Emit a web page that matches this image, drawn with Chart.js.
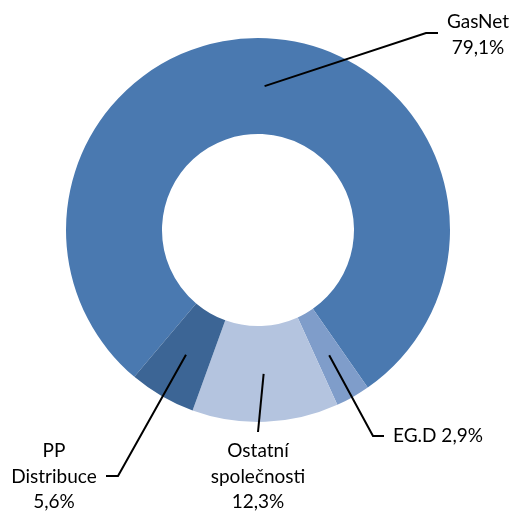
<!DOCTYPE html>
<html>
<head>
<meta charset="utf-8">
<script src="https://cdn.jsdelivr.net/npm/chart.js@4/dist/chart.umd.min.js"></script>
<style>
  html, body { margin: 0; padding: 0; background: #fff; }
  #wrap { width: 512px; height: 515px; position: relative; }
</style>
</head>
<body>
<div id="wrap"><canvas id="shareChart"></canvas></div>
<script>
const labels = ["GasNet", "EG.D", "Ostatní společnosti", "PP Distribuce"];
const shares = [79.1, 2.9, 12.3, 5.6];
const labelLines = [["GasNet", "79,1%"], ["EG.D 2,9%"], ["Ostatní", "společnosti", "12,3%"], ["PP", "Distribuce", "5,6%"]];
const sliceColors = ['#4a79b0', '#7f9dca', '#b4c4df', '#3c6595'];

// leader line layout: elbow point, end of horizontal tail, text anchor
const callouts = [
  { elbow: [426, 33], tail: [438, 33], text: [478, 22], align: 'center' },
  { elbow: [373, 436], tail: [384, 436], text: [393, 436], align: 'left' },
  { elbow: null, tail: [258, 432], text: [258, 451], align: 'center' },
  { elbow: [118, 476], tail: [106, 476], text: [54, 451], align: 'center' }
];

const calloutPlugin = {
  id: 'callouts',
  afterDatasetsDraw(chart) {
    const ctx = chart.ctx;
    const arcs = chart.getDatasetMeta(0).data;
    ctx.save();
    ctx.strokeStyle = '#000';
    ctx.lineWidth = 2;
    ctx.fillStyle = '#000';
    ctx.font = '19px Lato';
    ctx.textBaseline = 'middle';
    arcs.forEach((arc, i) => {
      const c = callouts[i];
      const p = arc.tooltipPosition();
      ctx.beginPath();
      ctx.moveTo(p.x, p.y);
      if (c.elbow) ctx.lineTo(c.elbow[0], c.elbow[1]);
      ctx.lineTo(c.tail[0], c.tail[1]);
      ctx.stroke();
      ctx.textAlign = c.align;
      labelLines[i].forEach((line, j) => {
        ctx.fillText(line, c.text[0], c.text[1] + j * 25.5);
      });
    });
    ctx.restore();
  }
};

new Chart(document.getElementById('shareChart'), {
  type: 'doughnut',
  data: {
    labels: labels,
    datasets: [{
      data: shares,
      backgroundColor: sliceColors,
      borderWidth: 0
    }]
  },
  options: {
    responsive: true,
    maintainAspectRatio: false,
    animation: false,
    rotation: 220.1,
    cutout: '50%',
    layout: { padding: { left: 66, right: 62, top: 38, bottom: 93 } },
    plugins: {
      legend: { display: false },
      tooltip: { enabled: false }
    }
  },
  plugins: [calloutPlugin]
});
</script>
</body>
</html>
